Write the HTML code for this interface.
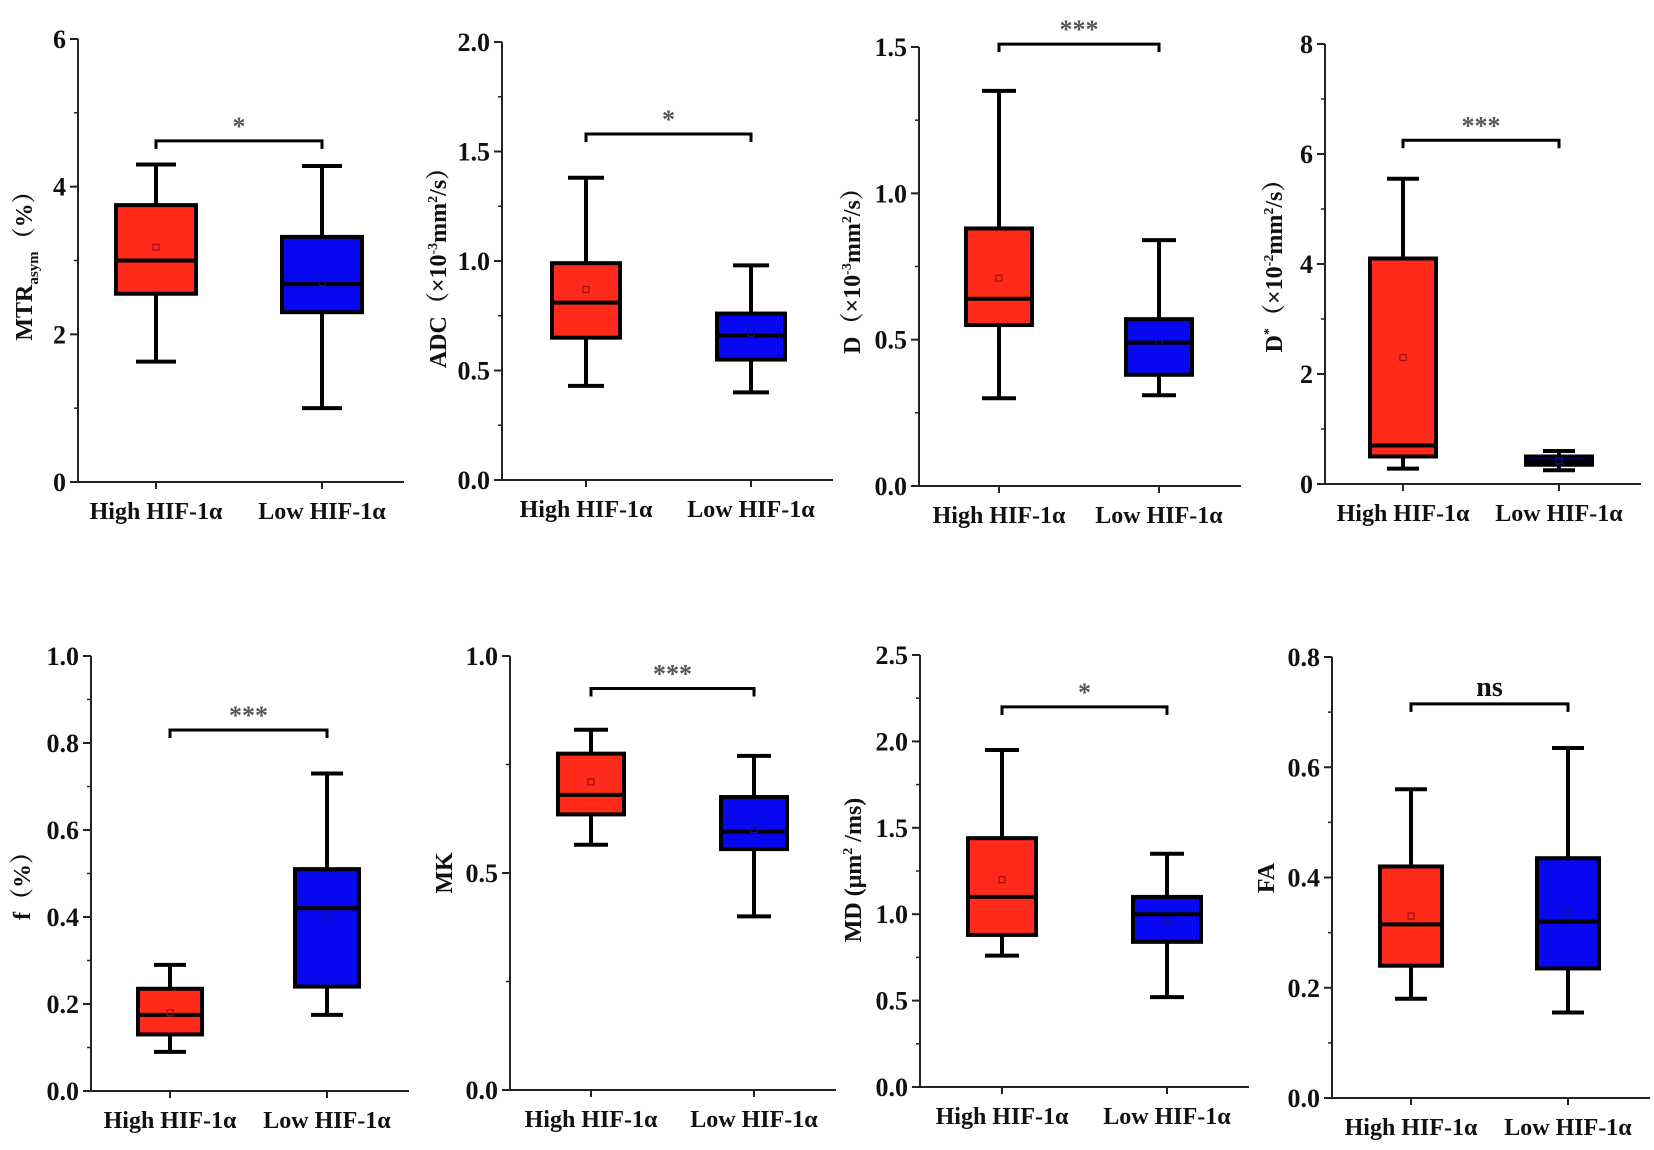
<!DOCTYPE html>
<html><head><meta charset="utf-8"><style>
html,body{margin:0;padding:0;background:#fff;}
svg{display:block;font-family:"Liberation Serif",serif;}
</style></head><body>
<svg id="fig" width="1654" height="1150" viewBox="0 0 1654 1150" xmlns="http://www.w3.org/2000/svg"></svg>
<script>
const categories = ["High HIF-1α", "Low HIF-1α"];
// [min, q1, median, q3, max, mean] for high / low
const mtrHigh = [1.63, 2.55, 3.0, 3.75, 4.3, 3.18];
const mtrLow = [1.0, 2.3, 2.68, 3.32, 4.28, 2.7];
const adcHigh = [0.43, 0.65, 0.81, 0.99, 1.38, 0.87];
const adcLow = [0.40, 0.55, 0.66, 0.76, 0.98, 0.67];
const dHigh = [0.30, 0.55, 0.64, 0.88, 1.35, 0.71];
const dLow = [0.31, 0.38, 0.49, 0.57, 0.84, 0.49];
const dstarHigh = [0.28, 0.5, 0.7, 4.1, 5.55, 2.3];
const dstarLow = [0.25, 0.35, 0.42, 0.5, 0.6, 0.42];
const fHigh = [0.09, 0.13, 0.175, 0.235, 0.29, 0.18];
const fLow = [0.175, 0.24, 0.42, 0.51, 0.73, 0.40];
const mkHigh = [0.565, 0.635, 0.68, 0.775, 0.83, 0.71];
const mkLow = [0.40, 0.555, 0.595, 0.675, 0.77, 0.60];
const mdHigh = [0.76, 0.88, 1.1, 1.44, 1.95, 1.2];
const mdLow = [0.52, 0.84, 1.0, 1.1, 1.35, 0.96];
const faHigh = [0.18, 0.24, 0.315, 0.42, 0.56, 0.33];
const faLow = [0.155, 0.235, 0.32, 0.435, 0.635, 0.335];
const mtrTicks = ["0","2","4","6"];
const adcTicks = ["0.0","0.5","1.0","1.5","2.0"];
const dTicks = ["0.0","0.5","1.0","1.5"];
const dstarTicks = ["0","2","4","6","8"];
const fTicks = ["0.0","0.2","0.4","0.6","0.8","1.0"];
const mkTicks = ["0.0","0.5","1.0"];
const mdTicks = ["0.0","0.5","1.0","1.5","2.0","2.5"];
const faTicks = ["0.0","0.2","0.4","0.6","0.8"];
const sigLabels = ["*","*","***","***","***","***","*","ns"];
const bracketVals = [4.62, 1.58, 1.51, 6.25, 0.83, 0.925, 2.2, 0.715];

const NS = "http://www.w3.org/2000/svg";
const svg = document.getElementById("fig");
function el(tag, attrs, parent) {
  const e = document.createElementNS(NS, tag);
  for (const k in attrs) e.setAttribute(k, attrs[k]);
  (parent || svg).appendChild(e);
  return e;
}

const panels = [
  {key:"mtr", ax:78, yTop:39, y0:482, cx:[156,322], hw:40, cap:20, ticks:mtrTicks, minor:1, data:[mtrHigh,mtrLow], tx:32, ty:260, title:'MTR<tspan font-size="15" dy="6">asym</tspan><tspan dy="-6">（%）</tspan>'},
  {key:"adc", ax:502, yTop:42, y0:480, cx:[586,751], hw:34, cap:18, ticks:adcTicks, minor:0.25, data:[adcHigh,adcLow], tx:446, ty:262, title:'ADC（×10<tspan font-size="14" dy="-9">-3</tspan><tspan dy="9">mm</tspan><tspan font-size="14" dy="-9">2</tspan><tspan dy="9">/s）</tspan>'},
  {key:"d", ax:919, yTop:47, y0:486, cx:[999,1159], hw:33, cap:17, ticks:dTicks, minor:0.25, data:[dHigh,dLow], tx:860, ty:265, title:'D（×10<tspan font-size="14" dy="-9">-3</tspan><tspan dy="9">mm</tspan><tspan font-size="14" dy="-9">2</tspan><tspan dy="9">/s）</tspan>'},
  {key:"dstar", ax:1325, yTop:44, y0:484, cx:[1403,1559], hw:33, cap:16, ticks:dstarTicks, minor:1, data:[dstarHigh,dstarLow], tx:1282, ty:260, title:'D<tspan font-size="14" dy="-9">*</tspan><tspan dy="9">（×10</tspan><tspan font-size="14" dy="-9">-2</tspan><tspan dy="9">mm</tspan><tspan font-size="14" dy="-9">2</tspan><tspan dy="9">/s）</tspan>'},
  {key:"f", ax:91, yTop:656, y0:1091, cx:[170,327], hw:32, cap:16, ticks:fTicks, minor:0.1, data:[fHigh,fLow], tx:30, ty:880, title:'f（%）'},
  {key:"mk", ax:510, yTop:656, y0:1090, cx:[591,754], hw:33, cap:17, ticks:mkTicks, minor:0.25, data:[mkHigh,mkLow], tx:452, ty:873, title:'MK'},
  {key:"md", ax:920, yTop:655, y0:1087, cx:[1002,1167], hw:34, cap:17, ticks:mdTicks, minor:0.25, data:[mdHigh,mdLow], tx:861, ty:870, title:'MD (μm<tspan font-size="14" dy="-9">2</tspan><tspan dy="9"> /ms)</tspan>'},
  {key:"fa", ax:1332, yTop:657, y0:1098, cx:[1411,1568], hw:31, cap:16, ticks:faTicks, minor:0.1, data:[faHigh,faLow], tx:1274, ty:878, title:'FA'}
];

panels.forEach((p, pi) => {
  const g = el("g", {});
  
  
  const vmax = parseFloat(p.ticks[p.ticks.length - 1]);
  const y = v => p.y0 - (v / vmax) * (p.y0 - p.yTop);
  const xEnd = p.cx[1] + 82;
  const yAxis = el("line", {x1:p.ax, y1:p.yTop, x2:p.ax, y2:p.y0, stroke:"#222", "stroke-width":2}, g);
  
  
  const xAxis = el("line", {x1:p.ax, y1:p.y0, x2:xEnd, y2:p.y0, stroke:"#222", "stroke-width":2}, g);
  
  
  for (let v = 0; v <= vmax + 1e-9; v += p.minor) {
    el("line", {x1:p.ax - 4, y1:y(v), x2:p.ax, y2:y(v), stroke:"#222", "stroke-width":1.5}, g);
  }
  p.ticks.forEach(t => {
    const v = parseFloat(t);
    el("line", {x1:p.ax - 8, y1:y(v), x2:p.ax, y2:y(v), stroke:"#222", "stroke-width":2}, g);
    const lab = el("text", {x:p.ax - 12, y:y(v) + 9, "text-anchor":"end", "font-size":26, "font-weight":"bold", fill:"#111"}, g);
    lab.textContent = t;
    
    
  });
  const tt = el("text", {x:0, y:0, transform:`translate(${p.tx},${p.ty}) rotate(-90)`, "text-anchor":"middle", "font-size":24, "font-weight":"bold", fill:"#111", "font-family":'"Liberation Serif","Noto Serif CJK SC",serif'}, g);
  tt.innerHTML = p.title;
  
  
  categories.forEach((c, ci) => {
    const cx = p.cx[ci];
    el("line", {x1:cx, y1:p.y0, x2:cx, y2:p.y0 + 7, stroke:"#222", "stroke-width":2}, g);
    const cl = el("text", {x:cx, y:p.y0 + 37, "text-anchor":"middle", "font-size":24, "font-weight":"bold", fill:"#111"}, g);
    cl.textContent = c;
    
    
    const d = p.data[ci];
    const fill = ci === 0 ? "#ff2a1a" : "#0808f0";
    const bg = el("g", {}, g);
    
    
    el("line", {x1:cx, y1:y(d[0]), x2:cx, y2:y(d[4]), stroke:"#000", "stroke-width":4}, bg);
    el("line", {x1:cx - p.cap, y1:y(d[0]), x2:cx + p.cap, y2:y(d[0]), stroke:"#000", "stroke-width":4}, bg);
    el("line", {x1:cx - p.cap, y1:y(d[4]), x2:cx + p.cap, y2:y(d[4]), stroke:"#000", "stroke-width":4}, bg);
    el("rect", {x:cx - p.hw, y:y(d[3]), width:2 * p.hw, height:y(d[1]) - y(d[3]), fill:fill, stroke:"#000", "stroke-width":4}, bg);
    el("line", {x1:cx - p.hw, y1:y(d[2]), x2:cx + p.hw, y2:y(d[2]), stroke:"#000", "stroke-width":4}, bg);
    el("rect", {x:cx - 3, y:y(d[5]) - 3, width:6, height:6, fill:"none", stroke: ci === 0 ? "#a01010" : "#1010a0", "stroke-width":1.2}, bg);
  });
  const by = y(bracketVals[pi]);
  const br = el("path", {d:`M${p.cx[0]},${by + 8} V${by} H${p.cx[1]} V${by + 8}`, fill:"none", stroke:"#000", "stroke-width":3}, g);
  
  
  const isNs = sigLabels[pi] === "ns";
  const st = el("text", {x:(p.cx[0] + p.cx[1]) / 2, y:isNs ? by - 8 : by - 6, "text-anchor":"middle", "font-size":isNs ? 28 : 26, "font-weight":"bold", fill:isNs ? "#111" : "#555"}, g);
  st.textContent = sigLabels[pi];
  
  
});
</script>
</body></html>
